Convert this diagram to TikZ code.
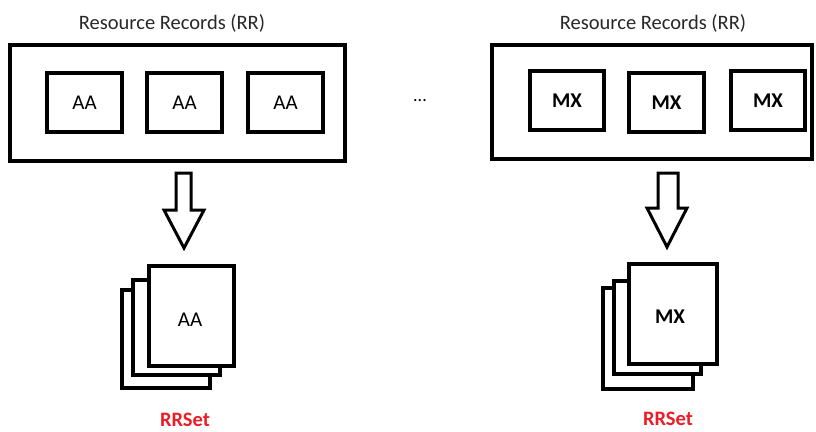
\documentclass[tikz,border=0pt]{standalone}
\usepackage{fontspec}
\setmainfont{Carlito}
\definecolor{setred}{RGB}{235,30,40}
\definecolor{titlegray}{RGB}{40,40,40}

\begin{document}
\begin{tikzpicture}[x=1pt,y=-1pt,line width=3.5pt,
  recbox/.style={draw,minimum width=#1,minimum height=59pt,inner sep=0pt,font=\fontsize{21}{23}\selectfont},
  outerbox/.style={draw,inner sep=0pt},
  page/.style={draw,fill=white,line width=3.5pt},
  title/.style={font=\fontsize{20.5}{23}\selectfont,text=titlegray,anchor=base},
  setlabel/.style={font=\fontsize{20.5}{23}\selectfont\bfseries,text=setred,anchor=base}]
\useasboundingbox (0,0) rectangle (816,431);
% left group
\node[outerbox,minimum width=335pt,minimum height=116pt] (rrleft) at (177.5,103) {};
\node[title] (titleleft) at (172,29) {Resource Records (RR)};
\node[recbox=75pt] (aa1) at (84.5,102.5) {AA};
\node[recbox=75pt] (aa2) at (184.5,102.5) {AA};
\node[recbox=75pt] (aa3) at (285.5,102.5) {AA};
\draw[line width=3pt,line join=miter] (176,173)--(191,173)--(191,210)--(204,210)--(184,248)--(164,210)--(176,210)--cycle;
\draw[page] (122,290) rectangle (210,388);
\draw[page] (133,280) rectangle (220,375);
\draw[page] (149,266) rectangle (234,366);
\node[font=\fontsize{21}{23}\selectfont] (aaset) at (190,320) {AA};
\node[setlabel] (setleft) at (185,426) {RRSet};
% dots
\node[font=\fontsize{18}{20}\selectfont] (dots) at (420,101) {...};
% right group
\node[outerbox,minimum width=320pt,minimum height=114pt] (rrright) at (652,102) {};
\node[title] (titleright) at (653,29) {Resource Records (RR)};
\node[recbox=74pt,font=\fontsize{21}{23}\selectfont\bfseries] (mx1) at (567,100.5) {MX};
\node[recbox=75pt,font=\fontsize{21}{23}\selectfont\bfseries] (mx2) at (666.5,102.5) {MX};
\node[recbox=74pt,font=\fontsize{21}{23}\selectfont\bfseries] (mx3) at (768,100.5) {MX};
\draw[line width=3pt,line join=miter] (658,173)--(678,173)--(678,208)--(687,208)--(667,247)--(647,208)--(658,208)--cycle;
\draw[page] (603,288) rectangle (693,389);
\draw[page] (614,281) rectangle (701,374);
\draw[page] (629,264) rectangle (717,364);
\node[font=\fontsize{21}{23}\selectfont\bfseries] (mxset) at (670,317) {MX};
\node[setlabel] (setright) at (668,425) {RRSet};
\end{tikzpicture}
\end{document}
